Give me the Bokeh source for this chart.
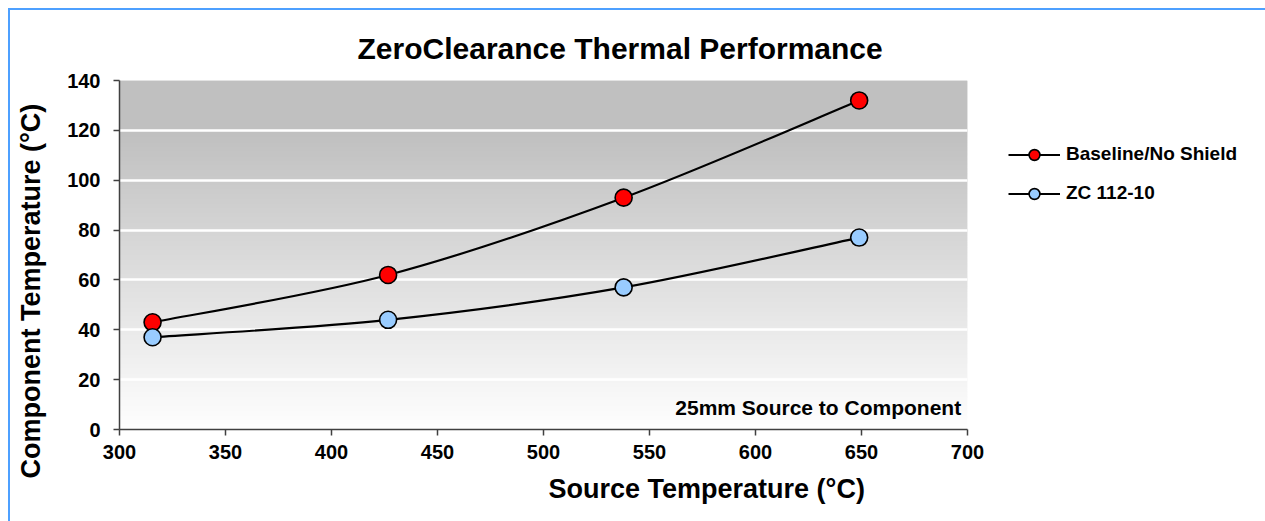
import numpy as np
from bokeh.plotting import figure
from bokeh.layouts import row
from bokeh.models import (Legend, LegendItem, Label, SingleIntervalTicker, Range1d,
                          ColumnDataSource, Title)
from bokeh.embed import file_html
from bokeh.resources import INLINE

# ---- data ----
source_temp = [315.6, 426.7, 537.8, 648.9]
baseline = [43, 62, 93, 132]
zc_112_10 = [37, 44, 57, 77]
series_names = ["Baseline/No Shield", "ZC 112-10"]
series_fills = ["#FF0000", "#99CCFF"]
x_ticks = [300, 350, 400, 450, 500, 550, 600, 650, 700]
y_ticks = [0, 20, 40, 60, 80, 100, 120, 140]

FONT = "Liberation Sans"


def blank_fig(width):
    f = figure(width=width, height=511, output_backend="svg", toolbar_location=None,
               x_range=Range1d(0, 1), y_range=Range1d(0, 1),
               x_axis_location=None, y_axis_location=None,
               min_border_left=0, min_border_right=0, min_border_top=0,
               min_border_bottom=0)
    f.outline_line_color = None
    f.grid.grid_line_color = None
    f.background_fill_color = "white"
    f.border_fill_color = "white"
    return f


# ---- left strip holding the y-axis title ----
p0 = blank_fig(50)
ylab = Title(text="Component Temperature (°C)", align="left", offset=-49,
             vertical_align="top", text_font=FONT, text_font_style="bold",
             text_font_size="27px", text_color="black", standoff=10)
p0.add_layout(ylab, "left")

# ---- main plot ----
p = figure(width=932, height=511, output_backend="svg", toolbar_location=None,
           x_range=Range1d(300, 700), y_range=Range1d(0, 140),
           min_border_left=59, min_border_right=25, min_border_top=70,
           min_border_bottom=92)
p.outline_line_color = None
p.background_fill_color = "white"
p.border_fill_color = "white"

p.title.text = "ZeroClearance Thermal Performance"
p.title.align = "left"
p.title.offset = 238
p.title.text_font = FONT
p.title.text_font_size = "30px"
p.title.text_font_style = "bold"
p.title.text_color = "black"
p.title.standoff = 32

# gradient background (decorative strips)
step = 0.5
edges = np.arange(0, 140, step)
t = (edges + step / 2) / 140.0
g = np.clip(255 - 63 * t / 0.85, 192, 255).astype(int)
cols = ["#%02x%02x%02x" % (v, v, v) for v in g]
tops = np.minimum(edges + 2 * step, 140)
bg = p.quad(left=x_ticks[0], right=x_ticks[-1], bottom=edges, top=tops,
            fill_color=cols, line_color=None)
bg.level = "image"

for ax in (p.xaxis[0], p.yaxis[0]):
    ax.major_label_text_font = FONT
    ax.major_label_text_font_style = "bold"
    ax.major_label_text_font_size = "20px"
    ax.major_label_text_color = "black"
    ax.axis_line_color = "#404040"
    ax.axis_line_width = 1.5
    ax.major_tick_line_color = "#404040"
    ax.major_tick_line_width = 1.5
    ax.major_tick_out = 6
    ax.major_tick_in = 0
    ax.minor_tick_line_color = None

p.xaxis[0].ticker = SingleIntervalTicker(interval=50)
p.yaxis[0].ticker = SingleIntervalTicker(interval=20)
p.xaxis[0].major_label_standoff = 9
p.yaxis[0].major_label_standoff = 13

xlab = Title(text="Source Temperature (°C)", align="left", offset=429,
             text_font=FONT, text_font_style="bold", text_font_size="27px",
             text_color="black", standoff=21)
p.add_layout(xlab, "below")

p.xgrid.grid_line_color = None
p.ygrid.ticker = SingleIntervalTicker(interval=20)
p.ygrid.grid_line_color = "white"
p.ygrid.grid_line_width = 2.5


def smooth_segments(xs, ys):
    """Catmull-Rom style bezier control points (Excel-like smoothing)."""
    n = len(xs)
    X = np.asarray(xs, float)
    Y = np.asarray(ys, float)
    x0, y0, x1, y1, cx0, cy0, cx1, cy1 = ([] for _ in range(8))
    for i in range(n - 1):
        im1 = max(i - 1, 0)
        ip2 = min(i + 2, n - 1)
        x0.append(X[i]); y0.append(Y[i])
        x1.append(X[i + 1]); y1.append(Y[i + 1])
        cx0.append(X[i] + (X[i + 1] - X[im1]) / 6.0)
        cy0.append(Y[i] + (Y[i + 1] - Y[im1]) / 6.0)
        cx1.append(X[i + 1] - (X[ip2] - X[i]) / 6.0)
        cy1.append(Y[i + 1] - (Y[ip2] - Y[i]) / 6.0)
    return dict(x0=x0, y0=y0, x1=x1, y1=y1, cx0=cx0, cy0=cy0, cx1=cx1, cy1=cy1)


for vals, fill in [(baseline, series_fills[0]), (zc_112_10, series_fills[1])]:
    src = ColumnDataSource(smooth_segments(source_temp, vals))
    p.bezier(x0="x0", y0="y0", x1="x1", y1="y1", cx0="cx0", cy0="cy0",
             cx1="cx1", cy1="cy1", source=src, line_color="black", line_width=2.2)
    p.scatter(x=source_temp, y=vals, size=17, marker="circle",
              fill_color=fill, line_color="black", line_width=1.6)

note = Label(x=697, y=8.8, text="25mm Source to Component", text_align="right",
             text_baseline="middle", text_font=FONT, text_font_style="bold",
             text_font_size="21px", text_color="black")
p.add_layout(note)

# ---- legend strip ----
p2 = blank_fig(273)
items = []
for name, fill in zip(series_names, series_fills):
    ln = p2.line(x=[np.nan], y=[np.nan], line_color="black", line_width=2.2)
    mk = p2.scatter(x=[np.nan], y=[np.nan], size=17, marker="circle",
                    fill_color=fill, line_color="black", line_width=1.6)
    items.append(LegendItem(label=name, renderers=[ln, mk]))

legend = Legend(items=items, location=(16, 222.5), orientation="vertical",
                margin=0, padding=0, spacing=12, glyph_width=52, glyph_height=27,
                label_standoff=6, label_text_font=FONT, label_text_font_style="bold",
                label_text_font_size="19px", label_text_color="black",
                border_line_color=None, background_fill_alpha=0)
p2.add_layout(legend, "center")

layout = row(p0, p, p2, spacing=0)
layout.styles = {"margin-left": "8px", "margin-top": "8px",
                 "border-left": "2px solid #4DA0FF", "border-top": "2px solid #4DA0FF"}

open("out.html", "w").write(file_html(layout, INLINE))
